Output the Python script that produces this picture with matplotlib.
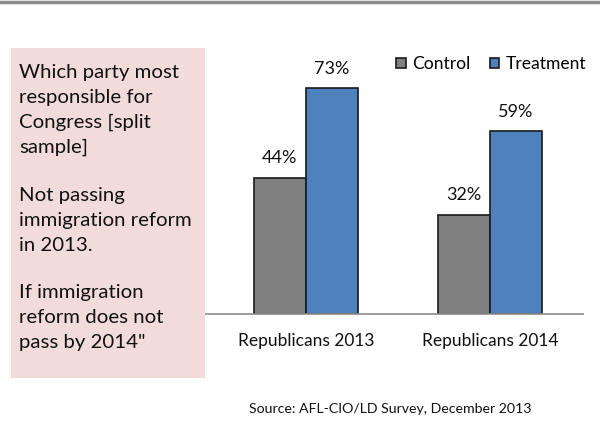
import matplotlib
matplotlib.use("Agg")
import matplotlib.pyplot as plt
from matplotlib.patches import Rectangle
import numpy as np

categories = ["Republicans 2013", "Republicans 2014"]
control = [44, 32]
treatment = [73, 59]
series_names = ["Control", "Treatment"]
box_paragraphs = [
    ["Which party most", "responsible for", "Congress [split", "sample]"],
    ["Not passing", "immigration reform", "in 2013."],
    ["If immigration", "reform does not", "pass by 2014\""],
]
source = "Source: AFL-CIO/LD Survey, December 2013"

plt.rcParams['font.family'] = ['Lato', 'DejaVu Sans']

W, H = 600, 421
fig = plt.figure(figsize=(6, 4.21), dpi=100)
fig.patch.set_facecolor("white")

# top border line
fig.add_artist(plt.Line2D([0, 1], [1 - 1.5 / H, 1 - 1.5 / H], color="#8c8c8c", lw=2.5))

# pink text box
fig.add_artist(Rectangle((11 / W, 1 - 378 / H), (205 - 11) / W, (378 - 48) / H,
                         facecolor="#F2DCDB", edgecolor="none"))
para_tops = [71, 194, 291]
for top, lines in zip(para_tops, box_paragraphs):
    for i, line in enumerate(lines):
        fig.text(19 / W, 1 - (top + 25 * i) / H, line, ha="left", va="center_baseline",
                 fontsize=14.7, color="#111111")

# axes: baseline at y=314, x from 204 to 583
ax_left, ax_right = 204, 583
ax_bottom, ax_top = 314, 48
ax = fig.add_axes([ax_left / W, 1 - ax_bottom / H, (ax_right - ax_left) / W, (ax_bottom - ax_top) / H])
ax.set_facecolor("none")
x = np.arange(len(categories))
w = 0.283
b1 = ax.bar(x - w / 2, control, w, color="#808080", edgecolor="#1a1a1a", lw=1.2, label=series_names[0])
b2 = ax.bar(x + w / 2, treatment, w, color="#4F81BD", edgecolor="#1a1a1a", lw=1.2, label=series_names[1])
ax.set_xlim(-0.554, 1.505)
ax.set_ylim(0, 266 / 3.096)
for bars, vals in ((b1, control), (b2, treatment)):
    for r, v in zip(bars, vals):
        ax.annotate(f"{v}%", (r.get_x() + r.get_width() / 2, v), xytext=(0, 14),
                    textcoords="offset points", ha="center", va="center", fontsize=13, color="#111111")
for s in ("top", "right", "left"):
    ax.spines[s].set_visible(False)
ax.spines["bottom"].set_color("#8c8c8c")
ax.spines["bottom"].set_linewidth(1.2)
ax.set_yticks([])
ax.set_xticks(x)
ax.set_xticklabels(categories, fontsize=12.5, color="#111111")
ax.tick_params(axis="x", length=0, pad=14)

leg = ax.legend(loc="upper right", bbox_to_anchor=(593 / W, 1 - 49 / H), bbox_transform=fig.transFigure,
                ncol=2, frameon=False, fontsize=12.6, handlelength=0.55, handleheight=0.55,
                handletextpad=0.35, columnspacing=1.1, borderaxespad=0)

fig.text(390 / W, 1 - 409 / H, source, ha="center", va="center", fontsize=10.2, color="#111111")

fig.savefig("out.png", dpi=100, facecolor="white")
